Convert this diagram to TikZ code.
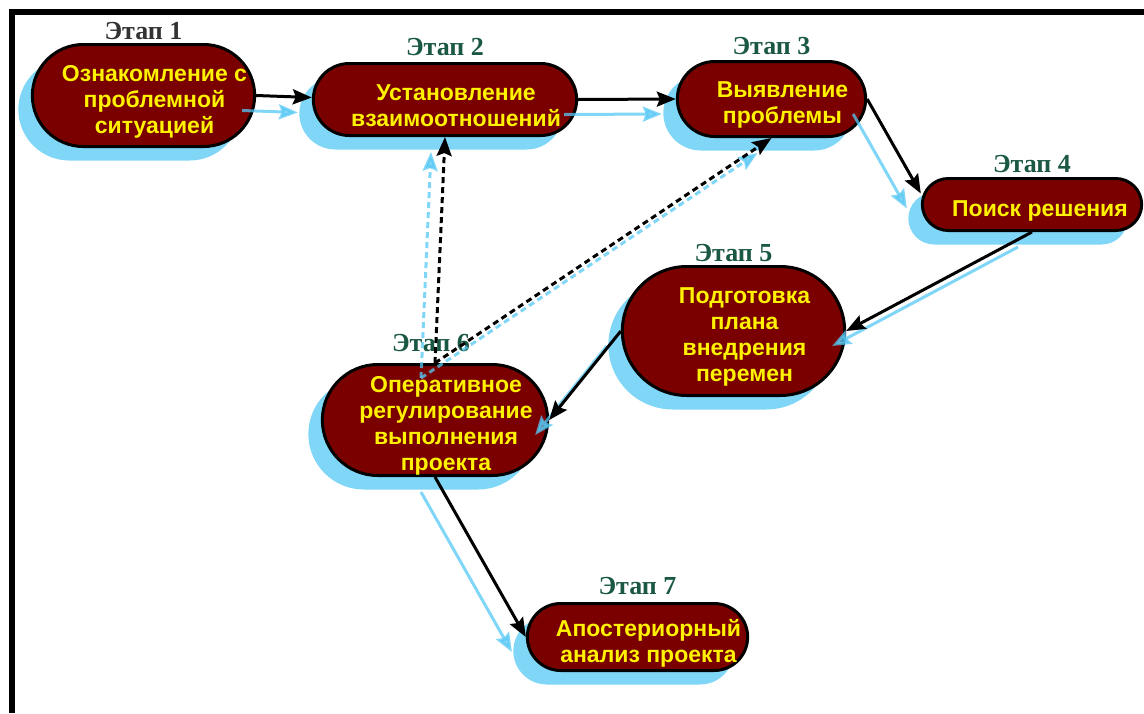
\documentclass[tikz,border=0pt]{standalone}
\usepackage{fontspec}
\setmainfont{Liberation Serif}
\newfontfamily\arialfont{Liberation Sans}
\usetikzlibrary{arrows.meta, positioning, shapes.misc, shadows}

\definecolor{stagered}{RGB}{122,0,0}
\definecolor{stageshadow}{RGB}{128,214,247}
\definecolor{arrowblue}{RGB}{86,200,244}
\definecolor{stagegreen}{RGB}{26,88,68}

\tikzset{
	stage/.style={rounded rectangle, draw=black, line width=3pt, fill=stagered,
		drop shadow={shadow xshift=-14pt, shadow yshift=-14pt, fill=stageshadow, opacity=1}},
	stagetext/.style={font=\arialfont\bfseries\fontsize{23}{26}\selectfont, text=yellow,
		align=center, xshift=11pt, yshift=-6pt},
	stagelbl/.style={font=\bfseries\fontsize{26}{26}\selectfont, text=stagegreen, inner sep=0pt},
	flow/.style={->, draw=black, line width=3pt},
	flowshadow/.style={->, draw=arrowblue, line width=3pt, opacity=0.75},
	dashflow/.style={dash pattern=on 6pt off 4pt},
}

\begin{document}
\begin{tikzpicture}[x=1pt, y=-1pt, > = {Stealth[length=19pt, width=15pt, inset=3pt]}, label distance=4pt]

\useasboundingbox (0,0) rectangle (1144,713);
\draw[line width=6pt] (12,713) -- (12,12) -- (1144,12);

\node[stage, minimum width=229pt, minimum height=102pt,
	label={[stagetext]center:{Ознакомление с\\проблемной\\ситуацией}},
	label={[stagelbl, text=black!80, label distance=3pt]above:Этап 1}]		(1) at (143.5,95.5)	{};
\node[stage, minimum width=270pt, minimum height=72pt,
	label={[stagetext]center:{Установление\\взаимоотношений}},
	label={[stagelbl, label distance=6pt]above:Этап 2}]					(2) at (445,99.5)	{};
\node[stage, minimum width=195pt, minimum height=75pt,
	label={[stagetext]center:{Выявление\\проблемы}},
	label={[stagelbl, label distance=5pt]above:Этап 3}]					(3) at (771.5,99)	{};
\node[stage, minimum width=226pt, minimum height=52pt,
	label={[stagetext, xshift=-3pt]center:{Поиск решения}},
	label={[stagelbl]above:Этап 4}]										(4) at (1032,204.5)	{};
\node[stage, minimum width=229pt, minimum height=129pt,
	label={[stagetext]center:{Подготовка\\плана\\внедрения\\перемен}},
	label={[stagelbl, label distance=3pt]above:Этап 5}]					(5) at (733.5,331)	{};
\node[stage, minimum width=232pt, minimum height=111pt,
	label={[stagetext]center:{Оперативное\\регулирование\\выполнения\\проекта}},
	label={[stagelbl, label distance=11pt, xshift=-4pt]above:Этап 6}]		(6) at (435,420)	{};
\node[stage, minimum width=227pt, minimum height=67pt,
	label={[stagetext]center:{Апостериорный\\анализ проекта}},
	label={[stagelbl, label distance=7pt]above:Этап 7}]					(7) at (637.5,637)	{};

% shadows of the connectors
\begin{scope}[transform canvas={xshift=-14pt, yshift=-15pt}]
\path	(1.east)	edge[flowshadow]				([yshift=2pt]2.west);
\path	(2.east)	edge[flowshadow]				(3.west);
\path	(3.east)	edge[flowshadow]				([yshift=11pt]4.west);
\path	(4.south)	edge[flowshadow]				(5.east);
\path	(5.west)	edge[flowshadow]				(6.east);
\path	(6.south)	edge[flowshadow]				(7.west);
\path	(6.north)	edge[flowshadow, dashflow]	(2.south);
\path	(6.north)	edge[flowshadow, dashflow]	(3.south);
\end{scope}

\path	(1.east)	edge[flow]					([yshift=2pt]2.west);
\path	(2.east)	edge[flow]					(3.west);
\path	(3.east)	edge[flow]					([yshift=11pt]4.west);
\path	(4.south)	edge[flow]					(5.east);
\path	(5.west)	edge[flow]					(6.east);
\path	(6.south)	edge[flow]					(7.west);
\path	(6.north)	edge[flow, dashflow]		(2.south);
\path	(6.north)	edge[flow, dashflow]		(3.south);
\end{tikzpicture}
\end{document}
